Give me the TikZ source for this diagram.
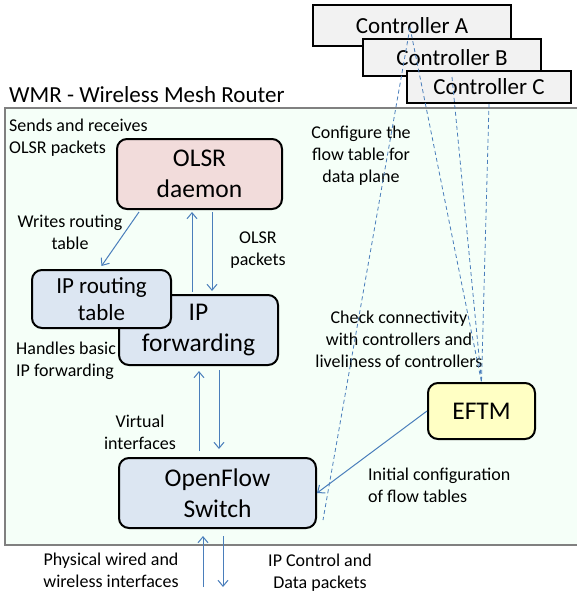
\documentclass[tikz,border=0pt]{standalone}
\usepackage{fontspec}
\setmainfont{Carlito}
\usetikzlibrary{arrows.meta,calc}
\definecolor{arrowblue}{RGB}{74,126,187}
\definecolor{wmrfill}{RGB}{245,255,248}
\definecolor{wmrline}{RGB}{128,128,128}
\definecolor{olsrfill}{RGB}{242,220,219}
\definecolor{ipfill}{RGB}{220,230,242}
\definecolor{eftmfill}{RGB}{255,255,196}
\definecolor{ctlfill}{RGB}{242,242,242}
\newcommand\lblfont{\fontsize{18}{22}\selectfont}
\newcommand\boxfont{\fontsize{25.5}{30.5}\selectfont}
\newcommand\ctlfont{\fontsize{23}{27}\selectfont}
\begin{document}
\begin{tikzpicture}[x=1pt,y=-1pt,
  rbox/.style={draw=black,line width=2pt,rounded corners=10pt,align=center,inner sep=0pt,font=\boxfont},
  ctlbox/.style={draw=black,line width=2pt,fill=ctlfill,inner sep=0pt,font=\ctlfont},
  lbl/.style={font=\lblfont,inner sep=0pt,anchor=base},
  arr/.style={draw=arrowblue,line width=1pt,-{Straight Barb[length=6pt,width=10pt]}},
  dsh/.style={draw=arrowblue,line width=0.8pt,dash pattern=on 4pt off 3pt}]
\useasboundingbox (0,0) rectangle (576,594);
% WMR box
\path[fill=wmrfill,draw=wmrline,line width=2pt] (5,108) rectangle (590,545);
\node[font=\ctlfont,inner sep=0pt,anchor=base west] (title) at (9,102) {WMR - Wireless Mesh Router};
% controllers
\node[ctlbox,minimum width=198pt,minimum height=41pt] (ca) at (412,25.5) {Controller A};
\node[ctlbox,minimum width=178pt,minimum height=37pt] (cb) at (452,57.5) {Controller B};
\node[ctlbox,minimum width=164pt,minimum height=32pt] (cc) at (489,87) {Controller C};
% main boxes
\node[rbox,fill=olsrfill,minimum width=165pt,minimum height=70pt] (olsr) at (199.5,174) {OLSR\\daemon};
\node[rbox,fill=ipfill,minimum width=159pt,minimum height=70pt] (ipf) at (198.5,330) {IP\\forwarding};
\node[rbox,fill=ipfill,minimum width=139pt,minimum height=58pt,font=\ctlfont] (rt) at (101.5,299) {IP routing\\table};
\node[rbox,fill=ipfill,minimum width=197pt,minimum height=70pt] (of) at (217.5,493) {OpenFlow\\Switch};
\node[rbox,fill=eftmfill,minimum width=107pt,minimum height=56pt] (eftm) at (481.5,411) {EFTM};
% labels (anchor base = baseline of last line)
\node[lbl,anchor=base west,align=left] (sends) at (9,153) {Sends and receives\\OLSR packets};
\node[lbl,align=center] (writes) at (70,249) {Writes routing\\table};
\node[lbl,align=center] (olsrpk) at (258,265) {OLSR\\packets};
\node[lbl,anchor=base west,align=left] (handles) at (16,376) {Handles basic\\IP forwarding};
\node[lbl,align=center] (virt) at (140,449) {Virtual\\interfaces};
\node[lbl,align=center] (config) at (361,182) {Configure the\\flow table for\\data plane};
\node[lbl,align=center] (check) at (399,367) {Check connectivity\\with controllers and\\liveliness of controllers};
\node[lbl,anchor=base west,align=left] (initial) at (368,502) {Initial configuration\\of flow tables};
\node[lbl,align=center] (phys) at (111,587) {Physical wired and\\wireless interfaces};
\node[lbl,align=center] (ipctl) at (320,588) {IP Control and\\Data packets};
% free ends
\coordinate (phin) at (203,587);
\coordinate (phout) at (223,587);
\coordinate (cfgend) at (323,520);
% arrows
\draw[arr] ($(olsr.south west)+(23,2)$) -- ($(rt.north)+(0,-3)$);
\draw[arr] ($(ipf.north)+(-6.5,-2)$) -- ($(olsr.south)+(-7.5,2)$);
\draw[arr] ($(olsr.south)+(12.5,2)$) -- ($(ipf.north)+(13.5,-3)$);
\draw[arr] ($(of.north)+(-18.5,-6)$) -- ($(ipf.south)+(0.5,5)$);
\draw[arr] ($(ipf.south)+(20.5,4)$) -- ($(of.north)+(1.5,-8)$);
\draw[arr] (phin) -- ($(of.south)+(-14.5,7)$);
\draw[arr] ($(of.south)+(5.5,7)$) -- (phout);
\draw[arr] (eftm.west) -- (of.east);
% dashed control lines
\draw[dsh] ($(ca.center)+(-2,2)$) -- (cfgend);
\draw[dsh] ($(ca.center)+(-2,2)$) -- (eftm.north);
\draw[dsh] (cb.south) -- (eftm.north);
\draw[dsh] (cc.south) -- (eftm.north);
\end{tikzpicture}
\end{document}
